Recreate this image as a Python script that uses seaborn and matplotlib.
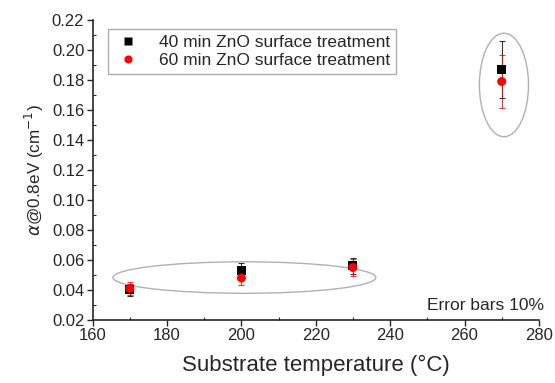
import numpy as np
import pandas as pd
import matplotlib
matplotlib.use('Agg')
import matplotlib.pyplot as plt
import seaborn as sns
from matplotlib.patches import Ellipse
from matplotlib.ticker import MultipleLocator

# data
temperature = [170, 200, 230, 270]
alpha_40min = [0.040, 0.053, 0.056, 0.187]
alpha_60min = [0.041, 0.048, 0.055, 0.179]
series_labels = ['40 min ZnO surface treatment', '60 min ZnO surface treatment']
error_frac = 0.10

df = pd.DataFrame({
    'T': temperature * 2,
    'alpha': alpha_40min + alpha_60min,
    'series': [series_labels[0]] * 4 + [series_labels[1]] * 4,
})

sns.set_style('ticks')
plt.rcParams['font.family'] = ['Liberation Sans', 'DejaVu Sans']
plt.rcParams['mathtext.fontset'] = 'dejavusans'

fig = plt.figure(figsize=(5.55, 3.83), dpi=100)
ax = fig.add_axes([0.167, 0.1645, 0.804, 0.7833])

# error bars (10 %)
for vals, col in [(alpha_40min, 'black'), (alpha_60min, 'red')]:
    ax.errorbar(temperature, vals, yerr=np.array(vals) * error_frac, fmt='none',
                ecolor=col, elinewidth=0.8, capsize=2.5, capthick=0.8, alpha=0.8, zorder=2)

sns.scatterplot(data=df, x='T', y='alpha', hue='series', style='series',
                palette={series_labels[0]: 'black', series_labels[1]: 'red'},
                markers={series_labels[0]: 's', series_labels[1]: 'o'},
                s=42, edgecolor='none', ax=ax, zorder=3)

# grouping ellipses
ax.add_patch(Ellipse((200.8, 0.0483), 70.7, 0.021, fill=False, edgecolor='#b0b0b0', lw=1.0))
ax.add_patch(Ellipse((270.6, 0.1767), 13.2, 0.069, fill=False, edgecolor='#b0b0b0', lw=1.0))

ax.set_xlim(160, 280)
ax.set_ylim(0.02, 0.22)
ax.xaxis.set_major_locator(MultipleLocator(20))
ax.xaxis.set_minor_locator(MultipleLocator(10))
ax.yaxis.set_major_locator(MultipleLocator(0.02))
ax.yaxis.set_minor_locator(MultipleLocator(0.01))
ax.yaxis.set_major_formatter(matplotlib.ticker.FormatStrFormatter('%.2f'))
ax.tick_params(which='major', direction='out', length=4, width=1, labelsize=12, pad=2)
ax.tick_params(which='minor', direction='in', length=2.5, width=0.8)
sns.despine(ax=ax)
for sp in ['left', 'bottom']:
    ax.spines[sp].set_linewidth(1.2)

ax.set_xlabel('Substrate temperature (°C)', fontsize=16, labelpad=8)
ax.set_ylabel(r'$\alpha$@0.8eV (cm$^{-1}$)', fontsize=12.3, labelpad=4)

ax.text(1.012, 0.022, 'Error bars 10%', transform=ax.transAxes, ha='right', va='bottom',
        fontsize=12.5, clip_on=False)

leg = ax.legend(loc='upper left', bbox_to_anchor=(0.015, 1.0), fontsize=12.5, frameon=True,
                fancybox=False, edgecolor='#999999', handletextpad=1.0, borderpad=0.35,
                labelspacing=0.15, markerscale=0.9, handlelength=1.6)
leg.get_frame().set_linewidth(1.0)

fig.savefig('out.png', dpi=100)
